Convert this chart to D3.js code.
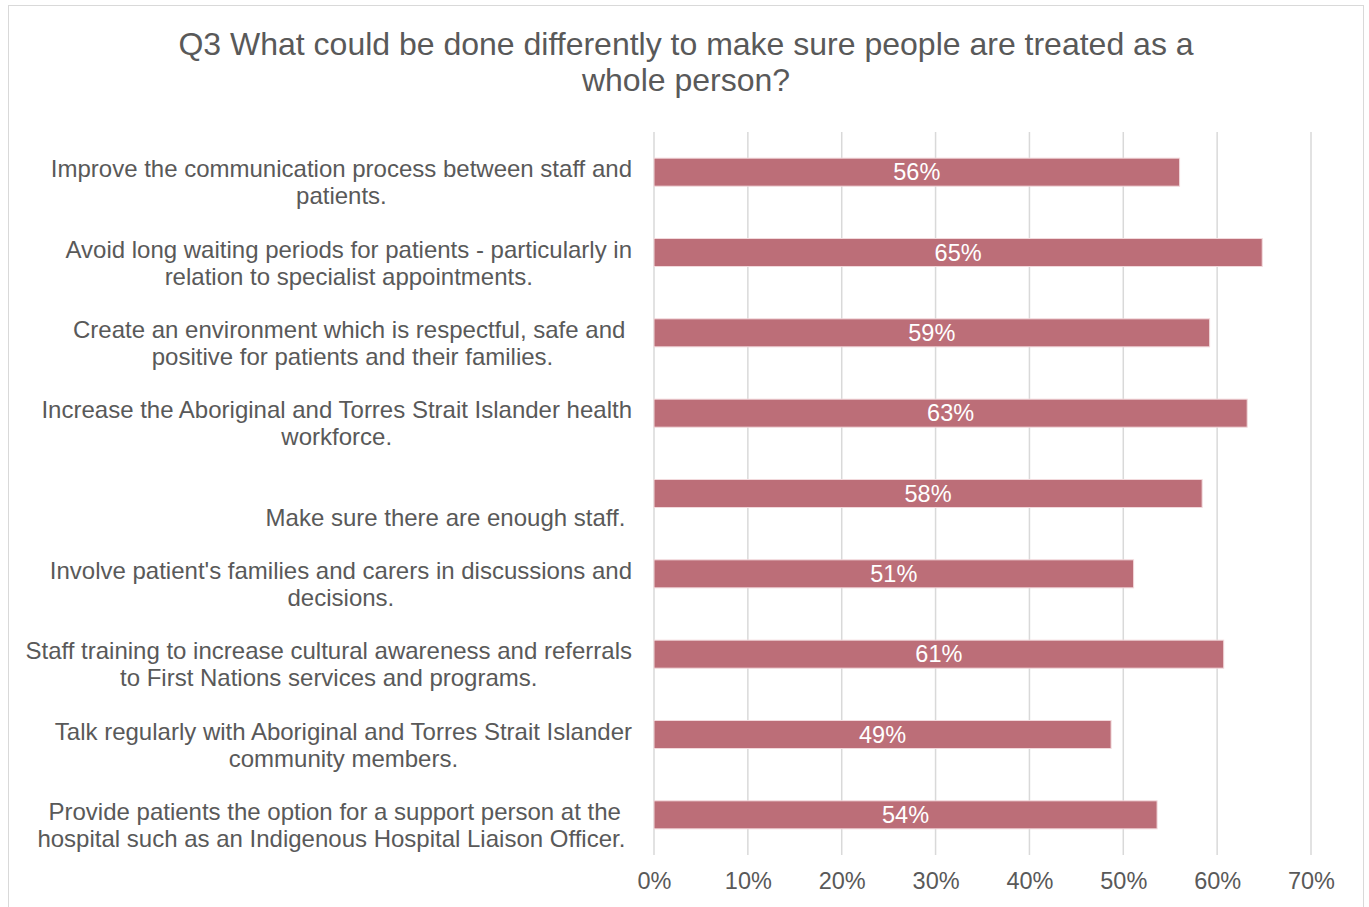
<!DOCTYPE html>
<meta charset="utf-8">
<style>
body { margin: 0; background: #fff; }
text { font-family: "Liberation Sans", Arial, sans-serif; fill: #595959; }
.grid line { stroke: #d9d9d9; stroke-width: 1.5; }
.bar { fill: #bc6e78; stroke: #f2d9dc; stroke-width: 1; }
</style>
<svg width="1369" height="907"></svg>
<script src="https://cdn.jsdelivr.net/npm/d3@7"></script>
<script>

var categories = [
  ["Improve the communication process between staff and", "patients."],
  ["Avoid long waiting periods for patients - particularly in", "relation to specialist appointments."],
  ["Create an environment which is respectful, safe and ", "positive for patients and their families."],
  ["Increase the Aboriginal and Torres Strait Islander health", "workforce."],
  ["", "Make sure there are enough staff. "],
  ["Involve patient's families and carers in discussions and", "decisions."],
  ["Staff training to increase cultural awareness and referrals", "to First Nations services and programs."],
  ["Talk regularly with Aboriginal and Torres Strait Islander", "community members."],
  ["Provide patients the option for a support person at the", "hospital such as an Indigenous Hospital Liaison Officer. "]
];
var values = [0.56, 0.648, 0.592, 0.632, 0.584, 0.511, 0.607, 0.487, 0.536];
var valueLabels = ["56%", "65%", "59%", "63%", "58%", "51%", "61%", "49%", "54%"];
var ticks = [0, 0.1, 0.2, 0.3, 0.4, 0.5, 0.6, 0.7];
var title = ["Q3 What could be done differently to make sure people are treated as a", "whole person?"];

var svg = d3.select("svg");

// chart border
svg.append("rect")
    .attr("x", 8.5).attr("y", 5.5)
    .attr("width", 1355).attr("height", 910)
    .attr("fill", "none")
    .attr("stroke", "#d9d9d9");

svg.append("text")
    .attr("text-anchor", "middle")
    .style("font-size", "32px")
    .selectAll("tspan")
    .data(title)
  .enter().append("tspan")
    .attr("x", 686)
    .attr("y", function(d, i) { return 55 + i * 36; })
    .text(function(d) { return d; });

var x = d3.scaleLinear().domain([0, 0.7]).range([654, 1311]);
var y = d3.scaleBand().domain(d3.range(categories.length)).range([132, 855]);

svg.append("g")
    .attr("class", "grid")
  .selectAll("line")
    .data(ticks)
  .enter().append("line")
    .attr("x1", function(d) { return x(d); })
    .attr("x2", function(d) { return x(d); })
    .attr("y1", 132)
    .attr("y2", 855);

var xAxis = svg.append("g")
    .attr("transform", "translate(0,855)")
    .call(d3.axisBottom(x).tickValues(ticks).tickFormat(d3.format(".0%")).tickSize(0).tickPadding(17));
xAxis.select(".domain").remove();
xAxis.selectAll("text").style("font-size", "23.5px").attr("fill", "#595959");

var barH = 28;

svg.append("g")
  .selectAll("rect")
    .data(values)
  .enter().append("rect")
    .attr("class", "bar")
    .attr("x", x(0))
    .attr("y", function(d, i) { return y(i) + y.bandwidth() / 2 - barH / 2; })
    .attr("width", function(d) { return x(d) - x(0); })
    .attr("height", barH);

svg.append("g")
  .selectAll("text")
    .data(values)
  .enter().append("text")
    .attr("x", function(d) { return (x(0) + x(d)) / 2; })
    .attr("y", function(d, i) { return y(i) + y.bandwidth() / 2 + 8; })
    .attr("text-anchor", "middle")
    .style("font-size", "23.5px")
    .style("fill", "#fff")
    .text(function(d, i) { return valueLabels[i]; });

// category labels: lines centred within a block that is right-aligned to the axis
var labelRight = 632;
var labels = svg.append("g")
  .selectAll("text")
    .data(categories)
  .enter().append("text")
    .attr("text-anchor", "middle")
    .style("font-size", "24px")
    .style("white-space", "pre");

labels.each(function(d, i) {
  var t = d3.select(this);
  var spans = t.selectAll("tspan")
      .data(d)
    .enter().append("tspan")
      .attr("y", function(s, j) { return y(i) + y.bandwidth() / 2 + 5 + j * 27; })
      .text(function(s) { return s; });
  var w = d3.max(spans.nodes(), function(n) { return n.getComputedTextLength(); });
  spans.attr("x", labelRight - w / 2);
});

</script>
